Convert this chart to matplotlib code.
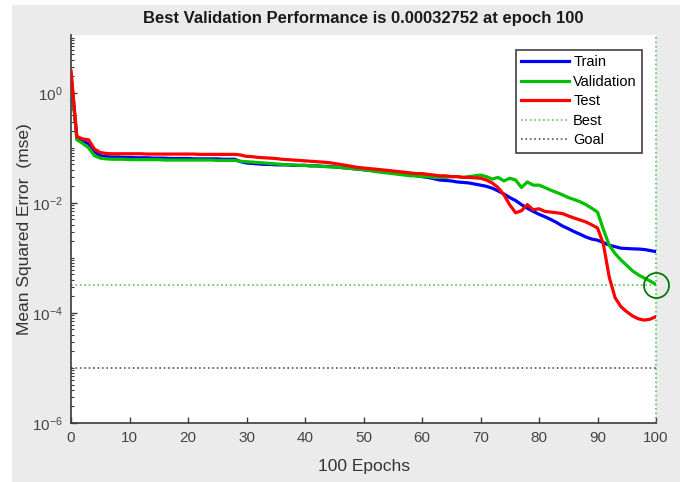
import numpy as np
import matplotlib
matplotlib.use("Agg")
import matplotlib.pyplot as plt
from matplotlib.patches import Rectangle
from matplotlib.ticker import LogLocator, NullFormatter

plt.rcParams['font.family'] = ['Liberation Sans', 'DejaVu Sans']
plt.rcParams['mathtext.fontset'] = 'custom'
plt.rcParams['mathtext.rm'] = 'Liberation Sans'
plt.rcParams['mathtext.it'] = 'Liberation Sans'

# epochs 0..100
epochs = list(range(101))

train = [
    2.0, 0.15, 0.13, 0.12, 0.085, 0.072, 0.069, 0.068, 0.068, 0.067,
    0.067, 0.066, 0.066, 0.066, 0.065, 0.065, 0.065, 0.064, 0.064, 0.064,
    0.064, 0.063, 0.063, 0.063, 0.063, 0.063, 0.062, 0.062, 0.062, 0.056,
    0.053, 0.052, 0.051, 0.050, 0.050, 0.049, 0.049, 0.049, 0.048, 0.048,
    0.048, 0.047, 0.047, 0.046, 0.046, 0.045, 0.044, 0.043, 0.042, 0.041,
    0.040, 0.039, 0.038, 0.037, 0.036, 0.0355, 0.035, 0.034, 0.0325, 0.031,
    0.030, 0.029, 0.0275, 0.026, 0.0255, 0.025, 0.024, 0.0235, 0.023, 0.022,
    0.021, 0.020, 0.0185, 0.0165, 0.0145, 0.0125, 0.011, 0.0093, 0.0080, 0.0070,
    0.0062, 0.0056, 0.0050, 0.0044, 0.0038, 0.0034, 0.0030, 0.0027, 0.0024, 0.0022,
    0.0021, 0.0019, 0.0017, 0.0016, 0.0015, 0.00148, 0.00146, 0.00145, 0.00142, 0.00136,
    0.0013,
]

validation = [
    2.3, 0.14, 0.12, 0.10, 0.072, 0.065, 0.063, 0.062, 0.062, 0.062,
    0.061, 0.061, 0.061, 0.061, 0.061, 0.061, 0.060, 0.060, 0.060, 0.060,
    0.060, 0.060, 0.060, 0.060, 0.060, 0.059, 0.059, 0.059, 0.059, 0.057,
    0.056, 0.055, 0.054, 0.053, 0.052, 0.051, 0.050, 0.049, 0.049, 0.048,
    0.048, 0.047, 0.047, 0.046, 0.045, 0.045, 0.044, 0.043, 0.042, 0.041,
    0.040, 0.039, 0.037, 0.036, 0.035, 0.034, 0.033, 0.032, 0.031, 0.031,
    0.030, 0.030, 0.029, 0.029, 0.029, 0.030, 0.030, 0.029, 0.030, 0.031,
    0.032, 0.030, 0.027, 0.029, 0.025, 0.028, 0.026, 0.019, 0.024, 0.021,
    0.021, 0.019, 0.017, 0.0155, 0.014, 0.0125, 0.0115, 0.0105, 0.0093, 0.0080,
    0.0068, 0.0033, 0.0017, 0.0012, 0.00092, 0.00073, 0.00058, 0.00049, 0.00043, 0.00038,
    0.00032752,
]

test = [
    2.5, 0.16, 0.145, 0.14, 0.095, 0.082, 0.079, 0.078, 0.078, 0.078,
    0.078, 0.078, 0.078, 0.077, 0.077, 0.077, 0.077, 0.077, 0.077, 0.077,
    0.077, 0.077, 0.076, 0.076, 0.076, 0.076, 0.076, 0.076, 0.076, 0.074,
    0.070, 0.069, 0.067, 0.066, 0.065, 0.064, 0.062, 0.061, 0.060, 0.059,
    0.058, 0.057, 0.056, 0.055, 0.054, 0.052, 0.050, 0.048, 0.046, 0.044,
    0.043, 0.042, 0.041, 0.040, 0.039, 0.038, 0.037, 0.036, 0.035, 0.034,
    0.034, 0.033, 0.032, 0.031, 0.031, 0.030, 0.030, 0.029, 0.029, 0.0285,
    0.028, 0.026, 0.023, 0.019, 0.014, 0.0092, 0.0066, 0.0072, 0.0093, 0.0075,
    0.0078, 0.0070, 0.0068, 0.0066, 0.0064, 0.0058, 0.0053, 0.0049, 0.0045, 0.0040,
    0.0035, 0.0018, 0.00045, 0.00019, 0.00013, 0.000105, 0.000088, 0.000078, 0.000074, 0.000077,
    0.000086,
]

best_epoch = 100
best_perf = 0.00032752
goal = 1e-5

fig = plt.figure(figsize=(6.8, 4.82), dpi=100, facecolor='white')
# grey MATLAB figure panel (screenshot has a white margin on the left/top)
fig.patches.append(Rectangle((12 / 680, 0), 1 - 12 / 680, (482 - 5) / 482,
                             transform=fig.transFigure, facecolor='#ebebeb',
                             edgecolor='none', zorder=-10))
ax = fig.add_axes([71 / 680, 1 - 423 / 482, (656 - 71) / 680, (423 - 35) / 482])
ax.set_facecolor('white')

ax.plot(epochs, train, color='#0000ff', lw=2.3, label='Train', zorder=3)
ax.plot(epochs, validation, color='#00c000', lw=2.3, label='Validation', zorder=3)
ax.plot(epochs, test, color='#ff0000', lw=2.3, label='Test', zorder=4)
ax.axhline(best_perf, color='#5fc05f', ls=':', lw=1.2, label='Best', zorder=2)
ax.axvline(best_epoch, color='#5fc05f', ls=':', lw=1.2, zorder=2, clip_on=False)
ax.axhline(goal, color='#555555', ls=':', lw=1.2, label='Goal', zorder=2)
ax.plot([best_epoch], [best_perf], 'o', mfc='none', mec='#007a00', ms=18, mew=1.3,
        zorder=5, clip_on=False)

ax.set_yscale('log')
ax.set_xlim(0, 100)
ax.set_ylim(1e-6, 10 ** 1.05)
ax.set_xticks(np.arange(0, 101, 10))
ax.set_yticks([1e-6, 1e-4, 1e-2, 1e0])
ax.set_yticklabels([r'$10^{-6}$', r'$10^{-4}$', r'$10^{-2}$', r'$10^{0}$'])
ax.yaxis.set_minor_locator(LogLocator(base=10, subs=np.arange(1, 10), numticks=50))
ax.yaxis.set_minor_formatter(NullFormatter())

axcol = '#3a3a3a'
for s in ['top', 'right']:
    ax.spines[s].set_visible(False)
for s in ['left', 'bottom']:
    ax.spines[s].set_color(axcol)
    ax.spines[s].set_linewidth(1.2)
ax.tick_params(axis='both', which='major', direction='in', length=4, width=1,
               color=axcol, labelcolor='#454545', labelsize=11, pad=6)
ax.tick_params(axis='y', which='minor', direction='in', length=2.5, width=0.8, color=axcol)

ax.set_title('Best Validation Performance is 0.00032752 at epoch 100',
             fontsize=12, fontweight='bold', color='#1a1a1a', pad=9)
ax.set_xlabel('100 Epochs', fontsize=12.5, color='#333333', labelpad=10)
ax.set_ylabel('Mean Squared Error  (mse)', fontsize=12.5, color='#333333', labelpad=0)

leg = ax.legend(loc='upper right', bbox_to_anchor=(0.976, 0.961), fontsize=10.5,
                fancybox=False, framealpha=1, edgecolor='#404040',
                handlelength=3.3, handletextpad=0.3, borderpad=0.35,
                labelspacing=0.38, borderaxespad=0)
leg.get_frame().set_linewidth(1.2)

fig.savefig('out.png', dpi=100, facecolor=fig.get_facecolor())
